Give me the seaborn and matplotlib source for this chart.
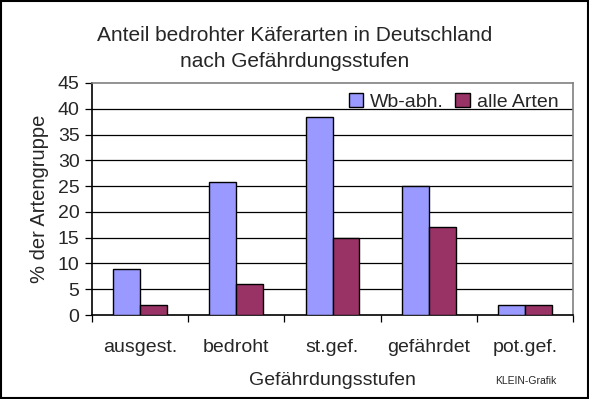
import pandas as pd
import seaborn as sns
import matplotlib.pyplot as plt
from matplotlib.patches import Rectangle

# Werte
stufen = ["ausgest.", "bedroht", "st.gef.", "gefährdet", "pot.gef."]
wb_abh = [8.9, 25.8, 38.4, 25.0, 2.0]
alle_arten = [2.0, 6.0, 15.0, 17.1, 2.0]
reihen = ["Wb-abh.", "alle Arten"]
farben = ["#9999FF", "#993366"]
y_ticks = [0, 5, 10, 15, 20, 25, 30, 35, 40, 45]

df = pd.DataFrame({
    "Stufe": stufen * 2,
    "Reihe": [reihen[0]] * len(stufen) + [reihen[1]] * len(stufen),
    "Anteil": wb_abh + alle_arten,
})

sns.set_style("white")
plt.rcParams["font.family"] = ["Liberation Sans", "DejaVu Sans"]

fig = plt.figure(figsize=(5.89, 3.99), dpi=100)
ax = fig.add_axes([0.1562, 0.2105, 0.8167, 0.5815])

sns.barplot(data=df, x="Stufe", y="Anteil", hue="Reihe", palette=farben, saturation=1,
            width=0.56, edgecolor="black", linewidth=1, ax=ax, zorder=3)

ax.set_ylim(0, 45)
ax.set_xlim(-0.5, len(stufen) - 0.5)
ax.set_yticks(y_ticks)
ax.set_yticklabels([str(t) for t in y_ticks], fontsize=14)
for t in y_ticks[1:-1]:
    ax.axhline(t, color="black", lw=0.9, zorder=1)

ax.tick_params(axis="y", direction="out", length=5, width=0.9, color="black", pad=4, left=True)
ax.tick_params(axis="x", which="major", length=0, pad=17, labelsize=14)
ax.set_xticks([i + 0.5 for i in range(-1, len(stufen))], minor=True)
ax.tick_params(axis="x", which="minor", direction="out", length=5, width=0.9, color="black", bottom=True)

for s in ["left", "bottom"]:
    ax.spines[s].set_color("black")
    ax.spines[s].set_linewidth(1.2)
for s in ["top", "right"]:
    ax.spines[s].set_color("#808080")
    ax.spines[s].set_linewidth(1.2)

ax.set_xlabel("Gefährdungsstufen", fontsize=14, labelpad=12)
ax.set_ylabel("% der Artengruppe", fontsize=14.5, labelpad=6)

leg = ax.legend(loc="upper right", bbox_to_anchor=(0.99, 1.0), ncol=2, frameon=False,
                fontsize=14, handlelength=0.75, handleheight=0.75, handletextpad=0.35,
                columnspacing=0.6, borderaxespad=0.1)

fig.text(0.5, 0.912, "Anteil bedrohter Käferarten in Deutschland", ha="center", va="center", fontsize=15)
fig.text(0.5, 0.845, "nach Gefährdungsstufen", ha="center", va="center", fontsize=15)
fig.text(0.893, 0.045, "KLEIN-Grafik", ha="center", va="center", fontsize=7.5)

fig.patches.append(Rectangle((0.001, 0.002), 0.997, 0.996, transform=fig.transFigure,
                             fill=False, edgecolor="black", lw=1.5))

fig.savefig("out.png", dpi=100)
